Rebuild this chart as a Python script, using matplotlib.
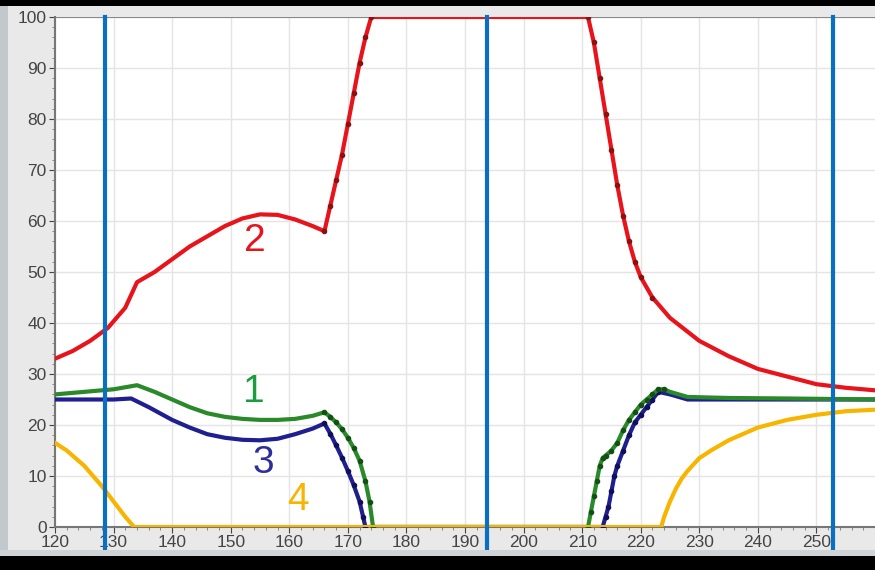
import numpy as np
import matplotlib.pyplot as plt
from matplotlib.patches import Rectangle

plt.rcParams["font.family"] = ["Liberation Sans", "DejaVu Sans"]

# curve 2 (red)
red_x = [120, 123, 126, 129, 132, 134, 137, 140, 143, 146, 149, 152, 155, 158, 161, 164, 166,
         167, 168, 169, 170, 171, 172, 173, 174,
         190, 211, 212, 213, 214, 215, 216, 217, 218, 219, 220, 222,
         225, 230, 235, 240, 245, 250, 255, 260]
red_y = [33, 34.5, 36.5, 39, 43, 48, 50, 52.5, 55, 57, 59, 60.5, 61.3, 61.2, 60.3, 59, 58,
         63, 68, 73, 79, 85, 91, 96, 100,
         100, 100, 95, 88, 81, 74, 67, 61, 56, 52, 49, 45,
         41, 36.5, 33.5, 31, 29.5, 28, 27.3, 26.8]
red_marks = list(range(16, 25)) + list(range(26, 37))

# curve 1 (green)
green_x = [120, 125, 130, 134, 137, 140, 143, 146, 149, 152, 155, 158, 161, 164, 166,
           167, 168, 169, 170, 171, 172, 173, 173.7, 174.3,
           190, 211, 211.5, 212, 212.5, 213, 213.5, 214, 215, 216, 217, 218, 219, 220, 221, 222, 223, 224,
           225, 228, 235, 245, 260]
green_y = [26, 26.5, 27, 27.8, 26.5, 25, 23.5, 22.3, 21.6, 21.2, 21, 21, 21.2, 21.8, 22.5,
           21.6, 20.5, 19.2, 17.5, 15.5, 13, 9, 5, 0,
           0, 0, 3, 6, 9, 12, 13.5, 14, 15, 16.5, 19, 21, 22.5, 24, 25, 26, 27, 27,
           26.5, 25.5, 25.3, 25.2, 25]
green_marks = list(range(14, 24)) + list(range(25, 42))

# curve 3 (blue)
blue_x = [120, 125, 130, 133, 136, 140, 143, 146, 149, 152, 155, 158, 161, 164, 166,
          167, 168, 169, 170, 171, 172, 172.6, 173,
          190, 213.5, 214, 214.5, 215, 215.5, 216, 217, 218, 219, 220, 221, 222, 223,
          225, 228, 235, 245, 260]
blue_y = [25, 25, 25, 25.2, 23.5, 21, 19.5, 18.2, 17.5, 17.1, 17, 17.3, 18.2, 19.3, 20.3,
          18.3, 16, 13.6, 11, 8.2, 5, 2, 0,
          0, 0, 2, 4, 7, 10, 12, 15, 18, 20.5, 22, 23.5, 25, 26.5,
          26, 25, 25, 25, 25]
blue_marks = list(range(14, 23)) + list(range(24, 37))

# curve 4 (orange)
orange_x = [120, 122, 125, 128, 130, 132, 133.5, 190, 223.5, 224, 225, 226, 227, 228, 230, 232, 235,
            240, 245, 250, 255, 260]
orange_y = [16.5, 15, 12, 8, 5, 2, 0, 0, 0, 2, 5, 7.5, 9.5, 11, 13.5, 15, 17,
            19.5, 21, 22, 22.7, 23]

vlines_x = [128.5, 193.8, 252.8]

labels = [("2", 154.2, 56, "#e8141c"),
          ("1", 154.0, 26.5, "#1a9e3c"),
          ("3", 155.5, 12.5, "#2e2e9a"),
          ("4", 161.5, 5.3, "#f7b500")]

fig = plt.figure(figsize=(8.75, 5.7), dpi=100)
fig.patch.set_facecolor("#e9e9e9")
fig.patches.append(Rectangle((0, 0), 8 / 875, 1, transform=fig.transFigure,
                             facecolor="#c3c8cc", edgecolor="none", zorder=0))
fig.patches.append(Rectangle((0, 1 - 6 / 570), 1, 6 / 570, transform=fig.transFigure,
                             facecolor="black", edgecolor="none", zorder=0))
fig.patches.append(Rectangle((0, 0), 1, 14 / 570, transform=fig.transFigure,
                             facecolor="black", edgecolor="none", zorder=0))
fig.patches.append(Rectangle((0, 14 / 570), 1, 6 / 570, transform=fig.transFigure,
                             facecolor="#d0d3d6", edgecolor="none", zorder=0))

ax = fig.add_axes([55 / 875, 1 - 527 / 570, 1 - 55 / 875, 510 / 570])
ax.set_facecolor("white")
ax.set_xlim(120, 260)
ax.set_ylim(0, 100)
ax.set_xticks(np.arange(120, 251, 10))
ax.set_yticks(np.arange(0, 101, 10))
ax.set_xticks(np.arange(120, 261, 2), minor=True)
ax.set_yticks(np.arange(0, 101, 2), minor=True)
ax.grid(True, which="major", color="#e4e4e4", linewidth=1)
ax.tick_params(which="major", labelsize=12.5, colors="#444444", length=4, pad=2)
ax.tick_params(which="minor", length=2, colors="#777777")
for side in ["top", "right"]:
    ax.spines[side].set_visible(False)
for side in ["left", "bottom"]:
    ax.spines[side].set_color("#777777")
    ax.spines[side].set_linewidth(1.5)
ax.axhline(100, color="#888888", linewidth=1.5)

ax.plot(red_x, red_y, color="#e8141c", linewidth=3, marker="o", markersize=3,
        markevery=red_marks, markerfacecolor="#8b1010", markeredgecolor="#8b1010", zorder=4)
ax.plot(blue_x, blue_y, color="#1f1f8f", linewidth=3, marker="o", markersize=3,
        markevery=blue_marks, markerfacecolor="#10105a", markeredgecolor="#10105a", zorder=4)
ax.plot(green_x, green_y, color="#2a8a2a", linewidth=3, marker="o", markersize=3,
        markevery=green_marks, markerfacecolor="#145014", markeredgecolor="#145014", zorder=5)
ax.plot(orange_x, orange_y, color="#f7b500", linewidth=3, zorder=5.5)

for x in vlines_x:
    ax.axvline(x, ymin=-0.085, ymax=1.0, color="#0a6fc2", linewidth=3, clip_on=False, zorder=6)

for text, x, y, c in labels:
    ax.text(x, y, text, color=c, fontsize=28, ha="center", va="center", zorder=7)

fig.savefig("out.png", dpi=100, facecolor=fig.get_facecolor())
